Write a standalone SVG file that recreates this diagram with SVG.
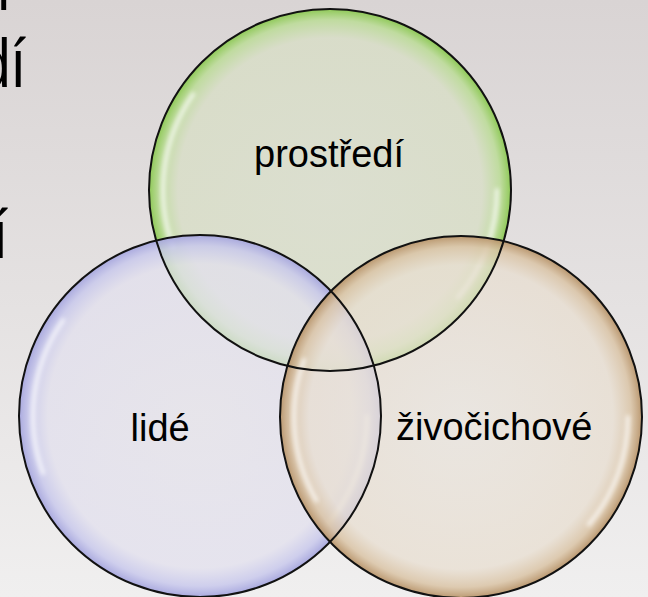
<svg xmlns="http://www.w3.org/2000/svg" width="648" height="597" viewBox="0 0 648 597">
  <defs>
    <linearGradient id="bg" x1="0" y1="0" x2="0" y2="1">
      <stop offset="0" stop-color="#d9d4d4"/>
      <stop offset="1" stop-color="#f0efef"/>
    </linearGradient>
    <radialGradient id="gGreen" cx="0.5" cy="0.5" r="0.5">
      <stop offset="0" stop-color="#dadfcc" stop-opacity="0.8"/>
      <stop offset="0.84" stop-color="#d8dec6" stop-opacity="0.8"/>
      <stop offset="0.94" stop-color="#bcdc98" stop-opacity="0.88"/>
      <stop offset="1" stop-color="#8ac850" stop-opacity="0.95"/>
    </radialGradient>
    <radialGradient id="gPurple" cx="0.5" cy="0.5" r="0.5">
      <stop offset="0" stop-color="#e6e4ec" stop-opacity="0.72"/>
      <stop offset="0.84" stop-color="#e2e0ee" stop-opacity="0.74"/>
      <stop offset="0.94" stop-color="#c8c8ec" stop-opacity="0.84"/>
      <stop offset="1" stop-color="#a6a6de" stop-opacity="0.95"/>
    </radialGradient>
    <radialGradient id="gBrown" cx="0.5" cy="0.5" r="0.5">
      <stop offset="0" stop-color="#eae5de" stop-opacity="0.72"/>
      <stop offset="0.84" stop-color="#e8ded0" stop-opacity="0.74"/>
      <stop offset="0.94" stop-color="#dac4a6" stop-opacity="0.86"/>
      <stop offset="1" stop-color="#b8946a" stop-opacity="0.95"/>
    </radialGradient>
    <filter id="soft" x="-20%" y="-20%" width="140%" height="140%">
      <feGaussianBlur stdDeviation="2"/>
    </filter>
  </defs>
  <style>
    .rim { fill: none; stroke: #111111; stroke-width: 2; }
    .hl { fill: none; stroke: #ffffff; stroke-width: 4; stroke-opacity: 0.75; stroke-linecap: round; filter: url(#soft); }
    .lbl { font-family: "Liberation Sans", Arial, sans-serif; font-size: 38px; fill: #000; }
    .bgtxt { font-family: "Liberation Sans", Arial, sans-serif; font-size: 68px; fill: #000; }
  </style>

  <rect x="0" y="0" width="648" height="597" fill="url(#bg)"/>

  <g id="background-text">
    <text class="bgtxt" text-anchor="end" transform="translate(10,10) scale(0.82,1)">l</text>
    <text class="bgtxt" text-anchor="end" transform="translate(26,87) scale(0.82,1)">dí</text>
    <text class="bgtxt" text-anchor="end" transform="translate(8,258) scale(0.82,1)">í</text>
  </g>

  <g id="prostredi">
    <circle cx="330" cy="190" r="181" fill="url(#gGreen)"/>
    <path class="hl" d="M193.2,94.1 A167,167 0 0 0 173.1,247.1"/>
    <path class="hl" d="M497,190 A167,167 0 0 1 457.9,297.4"/>
  </g>

  <g id="lide">
    <circle cx="200" cy="416" r="181" fill="url(#gPurple)"/>
    <path class="hl" d="M63.2,320.1 A167,167 0 0 0 43.1,473.1"/>
    <path class="hl" d="M367,416 A167,167 0 0 1 327.9,523.4"/>
  </g>

  <g id="zivocichove">
    <circle cx="461" cy="417" r="181" fill="url(#gBrown)"/>
    <path class="hl" d="M304.1,359.9 A167,167 0 0 0 316.4,500.5"/>
    <path class="hl" d="M628,417 A167,167 0 0 1 588.9,524.4"/>
  </g>

  <g id="outlines">
    <circle class="rim" cx="330" cy="190" r="181"/>
    <circle class="rim" cx="200" cy="416" r="181"/>
    <circle class="rim" cx="461" cy="417" r="181"/>
  </g>

  <g id="labels">
    <text class="lbl" x="329" y="167" text-anchor="middle">prostředí</text>
    <text class="lbl" x="130.5" y="441">lidé</text>
    <text class="lbl" x="396" y="440">živočichové</text>
  </g>

  <g id="connectors"/>
</svg>
